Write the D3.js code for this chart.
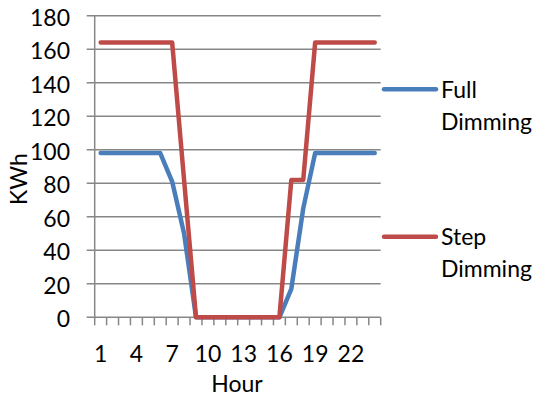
<!DOCTYPE html>
<html><head><meta charset="utf-8">
<script src="https://cdn.jsdelivr.net/npm/d3@7"></script>
<style>
body{margin:0;background:#fff;}
text{font-family:Lato,"Open Sans",sans-serif;fill:#000;}
</style></head>
<body><svg id="c" width="542" height="398"></svg>
<script>
const hours = d3.range(1, 25);
const fullDimming = [98,98,98,98,98,98,81,50,0,0,0,0,0,0,0,0,17,65,98,98,98,98,98,98];
const stepDimming = [164,164,164,164,164,164,164,82,0,0,0,0,0,0,0,0,82,82,164,164,164,164,164,164];
const yTicks = [0,20,40,60,80,100,120,140,160,180];
const xTickLabels = [1,4,7,10,13,16,19,22];
const seriesNames = ["Full Dimming","Step Dimming"];
const seriesColors = ["#4A7EBB","#BE4B48"];

const svg = d3.select("#c");
const L = 94.7, R = 380.7, T = 15.7, B = 317.3;
const x = d3.scaleBand().domain(hours).range([L, R]).padding(0);
const y = d3.scaleLinear().domain([0,180]).range([B, T]);
const grid = "#878787";

svg.append("g").selectAll("line").data(yTicks).join("line")
  .attr("x1", L-8).attr("x2", R).attr("y1", d=>y(d)).attr("y2", d=>y(d))
  .attr("stroke", grid).attr("stroke-width", 1.5);
svg.append("line").attr("x1", L).attr("x2", L).attr("y1", T).attr("y2", B)
  .attr("stroke", grid).attr("stroke-width", 1.5);
const bounds = hours.map(h => x(h)).concat([x(24)+x.bandwidth()]);
svg.append("g").selectAll("line").data(bounds).join("line")
  .attr("x1", d=>d).attr("x2", d=>d).attr("y1", B).attr("y2", B+8)
  .attr("stroke", grid).attr("stroke-width", 1.5);

svg.append("g").selectAll("text").data(yTicks).join("text")
  .attr("x", 70).attr("y", d=>y(d)+1).attr("text-anchor","end")
  .attr("dominant-baseline","central").attr("font-size", 23).text(d=>d);
svg.append("g").selectAll("text").data(xTickLabels).join("text")
  .attr("x", d=>x(d)+x.bandwidth()/2).attr("y", 362).attr("text-anchor","middle")
  .attr("font-size", 23).text(d=>d);
svg.append("text").attr("x", 237).attr("y", 392).attr("text-anchor","middle")
  .attr("font-size", 23).text("Hour");
svg.append("text").attr("transform","translate(27,179) rotate(-90)")
  .attr("text-anchor","middle").attr("font-size", 23).text("KWh");

const line = d3.line().x((d,i)=>x(hours[i])+x.bandwidth()/2).y(d=>y(d));
[fullDimming, stepDimming].forEach((s, i) => {
  svg.append("path").datum(s).attr("d", line).attr("fill","none")
    .attr("stroke", seriesColors[i]).attr("stroke-width", 4.5)
    .attr("stroke-linecap","round").attr("stroke-linejoin","round");
});

const legY = [89.3, 236.7];
seriesNames.forEach((n, i) => {
  const g = svg.append("g");
  g.append("line").attr("x1", 384).attr("x2", 436).attr("y1", legY[i]).attr("y2", legY[i])
    .attr("stroke", seriesColors[i]).attr("stroke-width", 4.5).attr("stroke-linecap","round");
  const parts = n.split(" ");
  parts.forEach((p, j) => {
    g.append("text").attr("x", 441).attr("y", legY[i] + 8.5 + j*32)
      .attr("font-size", 23).text(p);
  });
});
</script></body></html>
